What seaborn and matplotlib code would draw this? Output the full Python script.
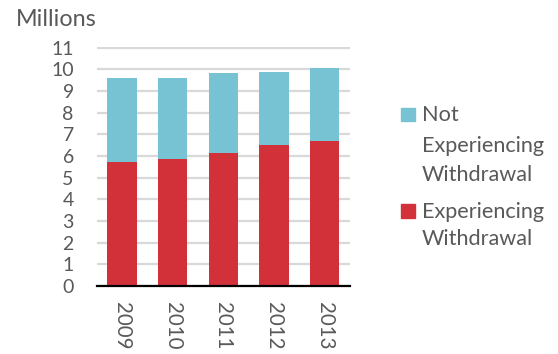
import matplotlib
matplotlib.use("Agg")
import matplotlib.pyplot as plt
from matplotlib.patches import Rectangle
import seaborn as sns

# Withdrawal counts, in millions
years = ["2009", "2010", "2011", "2012", "2013"]
experiencing = [5.74, 5.86, 6.14, 6.51, 6.71]
not_experiencing = [3.86, 3.76, 3.71, 3.37, 3.37]
y_ticks = list(range(0, 12))

series_labels = [["Not", "Experiencing", "Withdrawal"], ["Experiencing", "Withdrawal"]]
BLUE = "#77C3D3"
RED = "#D33139"
TEXT = "#595959"
FONT = ["Lato", "DejaVu Sans"]

sns.set_theme(style="white")
plt.rcParams["font.family"] = FONT

W, H = 558, 354
fig = plt.figure(figsize=(W / 100, H / 100), dpi=100)
y0_px, unit_px = 286.0, 21.66
ymax = 11.05
ax = fig.add_axes([96.7 / W, 1 - y0_px / H, (350 - 96.7) / W, ymax * unit_px / H])

totals = [e + n for e, n in zip(experiencing, not_experiencing)]
sns.barplot(x=years, y=totals, color=BLUE, saturation=1, width=0.58, ax=ax,
            edgecolor="none")
sns.barplot(x=years, y=experiencing, color=RED, saturation=1, width=0.58, ax=ax,
            edgecolor="none")

ax.set_xlim(-0.5, 4.5)
ax.set_ylim(0, ymax)
ax.set_yticks(y_ticks)
ax.set_yticklabels([str(t) for t in y_ticks])
ax.grid(axis="y", color="#D9D9D9", linewidth=1.6)
ax.grid(axis="x", visible=False)
ax.set_axisbelow(True)
for s in ["left", "right", "top"]:
    ax.spines[s].set_visible(False)
ax.spines["bottom"].set_color("black")
ax.spines["bottom"].set_linewidth(1.6)
ax.set_xlabel("")
ax.set_ylabel("")

ax.tick_params(axis="y", length=0, pad=16.5, labelsize=14, labelcolor=TEXT)
ax.tick_params(axis="x", length=0, pad=11.5, labelsize=14.8, labelcolor=TEXT)
for lbl in ax.get_xticklabels():
    lbl.set_rotation(-90)
    lbl.set_va("top")
    lbl.set_ha("center")

fig.text(16 / W, 1 - 26 / H, "Millions", fontsize=16.8, color=TEXT, va="baseline")

# Legend: colour square beside the first line of each wrapped label
legend_squares = [(107.7, BLUE), (204.3, RED)]
legend_baselines = [[121, 151.5, 181], [217.5, 245]]
for (sq_top, col), lines, bases in zip(legend_squares, series_labels, legend_baselines):
    fig.patches.append(Rectangle((401 / W, 1 - (sq_top + 13.3) / H), 14 / W, 13.3 / H,
                                 transform=fig.transFigure, color=col))
    for line, b in zip(lines, bases):
        fig.text(422 / W, 1 - b / H, line, fontsize=15.6, color=TEXT, va="baseline")

fig.savefig("out.png", dpi=100)
